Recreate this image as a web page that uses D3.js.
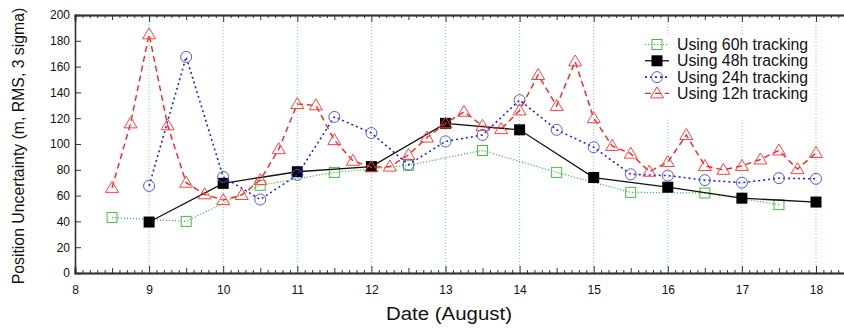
<!DOCTYPE html>
<html><head><meta charset="utf-8">
<script src="https://cdn.jsdelivr.net/npm/d3@7"></script>
<style>body{margin:0;background:#fff}svg{display:block}text{font-family:"Liberation Sans",Arial,sans-serif}</style>
</head><body>
<svg id="c" width="844" height="328"></svg>
<script>
const xTicks = [8,9,10,11,12,13,14,15,16,17,18];
const yTicks = [0,20,40,60,80,100,120,140,160,180,200];
const gridDays = [9,10,11,12,13,14,15,16,17,18];

const days60 = [8.5,9.5,10.5,11.5,12.5,13.5,14.5,15.5,16.5,17.5];
const vals60 = [43,40,68,78,83.5,95,78,62.5,62,53];

const days48 = [9,10,11,12,13,14,15,16,17,18];
const vals48 = [39.5,69.5,78.5,82.5,116,111,74,66.5,58,55];

const days24 = [9,9.5,10,10.5,11,11.5,12,12.5,13,13.5,14,14.5,15,15.5,16,16.5,17,17.5,18];
const vals24 = [67.5,167.5,74.5,57,76,121,108.5,84,102,107,134,111,97.5,76.5,75.5,72,70,73.5,73];

const days12 = [8.5,8.75,9,9.25,9.5,9.75,10,10.25,10.5,10.75,11,11.25,11.5,11.75,12,12.25,12.5,12.75,13,13.25,13.5,13.75,14,14.25,14.5,14.75,15,15.25,15.5,15.75,16,16.25,16.5,16.75,17,17.25,17.5,17.75,18];
const vals12 = [66,116,185,114.5,70,61,56.5,60.5,72,96,131,130,103,87,82,82.5,91.5,105,116,125,114,111.5,126,153.5,129.5,164,120,98.5,92.5,78.5,86,107,83,80,83,88,95,80.5,93];

const seriesNames = ["Using 60h tracking","Using 48h tracking","Using 24h tracking","Using 12h tracking"];

const svg = d3.select("#c");
const L = 75, T = 15, B = 273;
const x = d3.scaleLinear().domain([8,18.4]).range([L, L + 10.4*74.1]);
const y = d3.scaleLinear().domain([0,200]).range([B, T]);

// grid
svg.append("g").selectAll("line").data(gridDays).join("line")
  .attr("x1",d=>x(d)).attr("x2",d=>x(d)).attr("y1",T).attr("y2",B)
  .attr("stroke","#6fd9a8").attr("stroke-width",1).attr("stroke-dasharray","1,2");

// axes
const axisStyle = g => { g.selectAll("path").attr("stroke","#333").attr("stroke-width",1.6);
  g.selectAll(".tick line").attr("stroke","#333").attr("stroke-width",1); };
const minor = d3.range(80,185).map(v=>v/10).filter(v=>Math.round(v*10)%5!==0);
const half = d3.range(8.5,18.5,1);
[[d3.axisBottom, B],[d3.axisTop, T]].forEach(([ax,pos])=>{
  svg.append("g").attr("transform",`translate(0,${pos})`).call(ax(x).tickValues(minor).tickSize(-3).tickFormat("")).call(axisStyle);
  svg.append("g").attr("transform",`translate(0,${pos})`).call(ax(x).tickValues(half).tickSize(-5).tickFormat("")).call(axisStyle);
});
const gb = svg.append("g").attr("transform",`translate(0,${B})`)
  .call(d3.axisBottom(x).tickValues(xTicks).tickSize(-7).tickPadding(12).tickFormat(d3.format("d"))).call(axisStyle);
gb.selectAll("text").attr("font-size",12).attr("fill","#111");
svg.append("g").attr("transform",`translate(0,${T})`)
  .call(d3.axisTop(x).tickValues(xTicks).tickSize(-7).tickFormat("")).call(axisStyle);
const gl = svg.append("g").attr("transform",`translate(${L},0)`)
  .call(d3.axisLeft(y).tickValues(yTicks).tickSize(-6).tickPadding(5)).call(axisStyle);
gl.selectAll("text").attr("font-size",12).attr("fill","#111");

// lines
const line = (xs) => d3.line().x((d,i)=>x(xs[i])).y(d=>y(d));
const cfg = [
  {xs:days60, ys:vals60, c:"#22b822", mc:"#44bb44", dash:"1,2", w:1.2, m:"sq"},
  {xs:days48, ys:vals48, c:"#111", mc:"#000", dash:null, w:1.3, m:"fsq"},
  {xs:days24, ys:vals24, c:"#2020ee", mc:"#5555ee", dash:"2,3", w:1.6, m:"circ"},
  {xs:days12, ys:vals12, c:"#ff2020", mc:"#ff4040", dash:"6,4", w:1.4, m:"tri"}
];
function marker(g, type, cx, cy, col){
  if(type==="sq") g.append("rect").attr("x",cx-5).attr("y",cy-5).attr("width",10).attr("height",10).attr("fill","none").attr("stroke",col).attr("stroke-width",1);
  if(type==="fsq") g.append("rect").attr("x",cx-5.5).attr("y",cy-5.5).attr("width",11).attr("height",11).attr("fill","#000");
  if(type==="circ") g.append("circle").attr("cx",cx).attr("cy",cy).attr("r",5.5).attr("fill","none").attr("stroke",col).attr("stroke-width",1);
  if(type==="tri") g.append("path").attr("d",`M${cx},${cy-6.5}L${cx+6.5},${cy+4.5}L${cx-6.5},${cy+4.5}Z`).attr("fill","none").attr("stroke",col).attr("stroke-width",1);
}
cfg.forEach(s=>{
  svg.append("path").attr("d",line(s.xs)(s.ys)).attr("fill","none").attr("stroke",s.c)
    .attr("stroke-width",s.w).attr("stroke-dasharray",s.dash);
  const g = svg.append("g");
  s.ys.forEach((v,i)=>marker(g,s.m,x(s.xs[i]),y(v),s.mc));
});

// legend
const lg = svg.append("g");
lg.append("rect").attr("x",640).attr("y",34).attr("width",172).attr("height",84).attr("fill","#fff");
cfg.forEach((s,i)=>{
  const yy = 44.5 + i*16.3;
  lg.append("line").attr("x1",645).attr("x2",669).attr("y1",yy).attr("y2",yy).attr("stroke",s.c).attr("stroke-width",s.w).attr("stroke-dasharray",s.dash);
  marker(lg,s.m,657,yy,s.mc);
  lg.append("text").attr("x",677).attr("y",yy+5.5).attr("font-size",15.8).attr("fill","#111")
    .attr("textLength",131).attr("lengthAdjust","spacingAndGlyphs").text(seriesNames[i]);
});

// titles
svg.append("text").attr("x",449).attr("y",320).attr("text-anchor","middle").attr("font-size",17.5).attr("fill","#111")
  .attr("textLength",126).attr("lengthAdjust","spacingAndGlyphs").text("Date (August)");
svg.append("text").attr("transform","translate(23.5,146) rotate(-90)").attr("text-anchor","middle").attr("font-size",15.8).attr("fill","#111")
  .text("Position Uncertainty (m, RMS, 3 sigma)");
</script>
</body></html>
